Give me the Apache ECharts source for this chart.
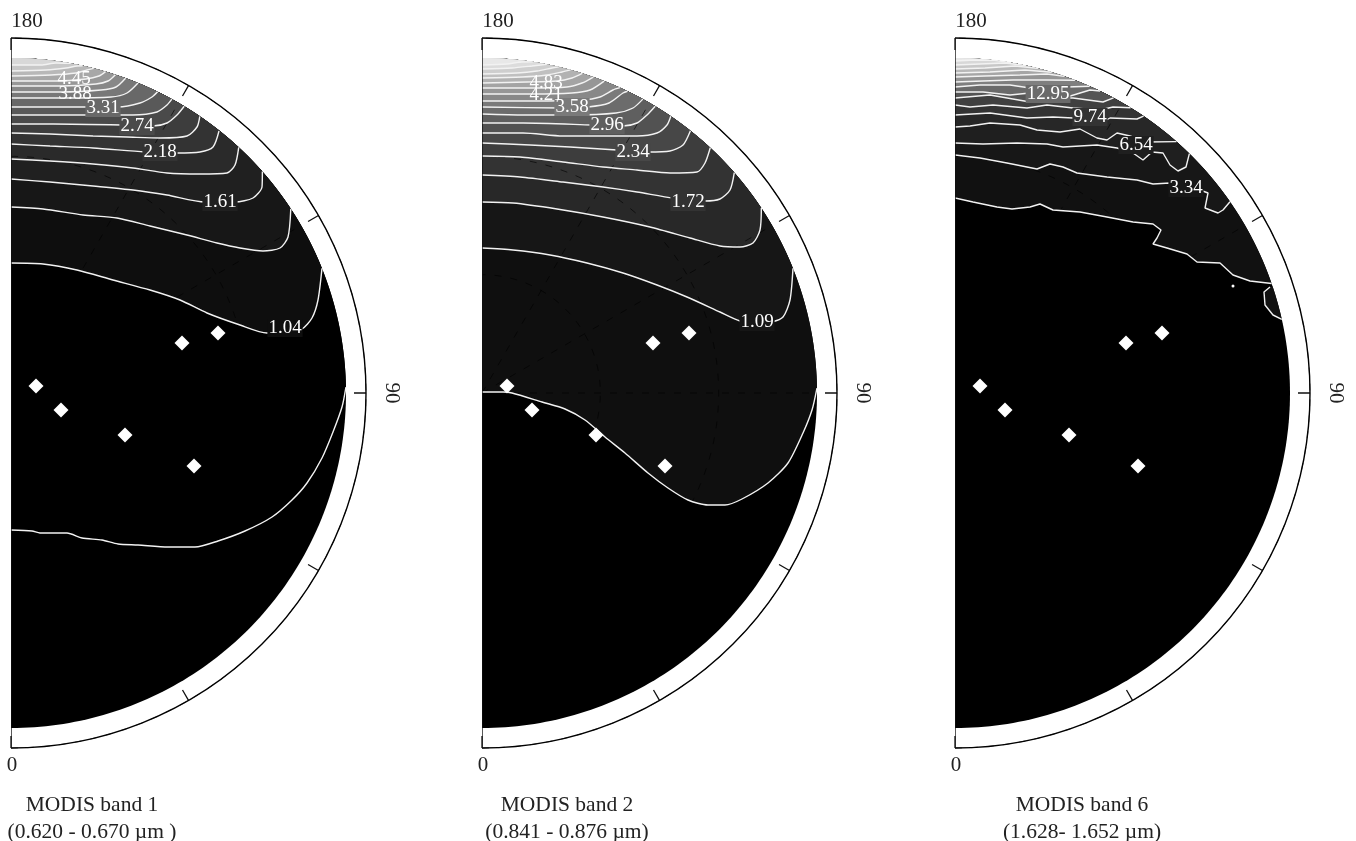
<!DOCTYPE html>
<html><head><meta charset="utf-8">
<style>html,body{margin:0;padding:0;background:#fff}#c{width:1356px;height:841px}</style>
<script src="https://cdn.jsdelivr.net/npm/echarts@6/dist/echarts.min.js"></script>
</head><body><div id="c"></div>
<script>
// Contours as [across, along] readings on the polar plot's own scale (0 to 355 from the pole).
var band1Lines = [
 [[0,-137],[21,-138],[29,-140],[56,-140],[71,-145],[91,-147],[107,-151],[127,-152],[157,-154],[184,-154],[207,-148],[234,-138],[261,-124],[281,-107],[296,-90],[311,-65],[322,-39],[331,-14],[336,6]],
 [[0,130],[32,129],[66,123],[102,113],[139,103],[169,93],[196,80],[229,68],[256,60],[274,60],[291,64],[301,75],[307,93],[312,125]],
 [[0,186],[32,184],[72,178],[106,175],[139,167],[176,158],[206,150],[229,145],[252,142],[269,145],[277,156],[281,185]],
 [[0,214],[39,211],[82,207],[122,203],[156,198],[194,191],[224,191],[242,195],[251,206],[252,222]],
 [[0,234],[39,232],[82,229],[122,225],[156,220],[189,219],[216,220],[224,228],[228,246]],
 [[0,249],[39,247],[82,245],[134,241],[166,240],[189,241],[202,246],[208,262]],
 [[0,260],[39,259],[82,257],[116,256],[149,255],[176,257],[186,266],[189,277]],
 [[0,269],[42,269],[111,268],[142,267],[156,270],[166,278],[174,288]],
 [[0,278],[72,278],[122,278],[146,281],[156,288],[162,296]],
 [[0,286],[60,286],[107,286],[129,290],[141,296],[147,302]],
 [[0,295],[55,295],[100,296],[116,300],[127,310]],
 [[0,301],[50,301],[90,303],[105,306],[115,316]],
 [[0,307],[50,307],[85,309],[97,312],[105,320]],
 [[0,312],[45,312],[75,314],[88,317],[95,323]],
 [[0,317],[40,318],[65,320],[76,323],[83,326]],
 [[0,322],[35,323],[55,325],[66,327],[72,329]],
 [[0,328],[30,328],[45,330],[60,331]]
];
var band2Lines = [
 [[0,1],[21,1],[30,0],[60,-9],[83,-16],[103,-27],[123,-44],[143,-60],[166,-80],[186,-95],[206,-107],[226,-112],[243,-112],[260,-106],[286,-90],[306,-70],[321,-40],[330,-17],[336,5]],
 [[0,145],[31,143],[68,138],[105,130],[141,120],[175,108],[205,96],[238,81],[258,72],[275,69],[290,71],[301,76],[308,93],[312,125]],
 [[0,191],[31,190],[75,184],[121,176],[168,166],[208,155],[238,147],[258,146],[271,150],[278,163],[281,186]],
 [[0,218],[38,216],[81,211],[121,206],[155,201],[191,195],[223,192],[238,194],[248,203],[253,221]],
 [[0,237],[38,236],[81,231],[121,226],[155,223],[188,220],[215,221],[223,230],[229,246]],
 [[0,250],[48,248],[88,246],[135,243],[166,241],[188,242],[201,248],[209,263]],
 [[0,260],[41,260],[81,257],[121,257],[155,257],[175,260],[185,268],[189,277]],
 [[0,270],[41,270],[110,268],[141,267],[155,270],[165,278],[174,288]],
 [[0,279],[42,278],[90,278],[134,280],[151,285],[162,296]],
 [[0,286],[80,285],[106,286],[127,290],[141,300],[147,305]],
 [[0,292],[50,292],[100,293],[118,296],[131,303],[140,310]],
 [[0,299],[50,299],[90,300],[108,303],[123,314]],
 [[0,305],[50,305],[85,306],[100,310],[112,318]],
 [[0,310],[45,311],[75,312],[90,315],[101,322]],
 [[0,315],[40,316],[65,318],[80,321],[89,325]],
 [[0,319],[35,320],[55,322],[70,325],[77,327]],
 [[0,324],[30,325],[50,327],[65,330]],
 [[0,328],[25,329],[40,331],[51,332]]
];
var band6Lines = [
 [[0,195],[18,191],[42,186],[57,184],[75,186],[85,189],[98,183],[125,181],[152,176],[178,171],[198,169],[206,163],[202,155],[198,149],[212,145],[232,139],[242,131],[265,130],[278,118],[295,112],[318,110]],
 [[0,238],[25,235],[52,230],[82,224],[95,229],[108,226],[122,220],[152,216],[182,213],[198,209],[215,210],[245,203],[253,200],[250,185],[263,180],[268,183],[276,192]],
 [[0,250],[28,249],[62,250],[92,249],[108,246],[142,248],[162,245],[178,240],[188,233],[197,241],[208,240],[215,228],[223,222],[231,226],[235,240]],
 [[0,266],[15,267],[35,270],[65,268],[82,263],[105,261],[125,264],[142,255],[152,253],[162,260],[175,257],[192,251],[222,252]],
 [[0,278],[35,280],[72,275],[98,276],[118,275],[142,268],[155,275],[182,274],[190,279]],
 [[0,288],[15,286],[38,288],[72,285],[92,288],[118,285],[145,283],[158,286],[176,286]],
 [[0,295],[35,298],[75,291],[95,295],[118,295],[148,291],[159,296]],
 [[0,301],[28,301],[55,298],[75,300],[112,296],[135,303],[147,306]],
 [[0,306],[25,308],[55,308],[75,305],[112,306],[136,310]],
 [[0,311],[28,312],[58,313],[92,313],[120,313]],
 [[0,316],[30,317],[65,318],[92,319],[110,318]],
 [[0,320],[35,321],[70,323],[97,322]],
 [[0,324],[30,325],[60,327],[83,325]],
 [[0,328],[25,329],[50,330],[71,328]],
 [[0,332],[20,333],[40,333],[56,331]]
];
var band6Pocket = [[315,106],[309,101],[310,88],[318,78],[328,74]];
var band6Speck = [[278,107]];
var sunAngles = [[25,7],[50,-17],[114,-42],[183,-73],[171,50],[207,60]];
var band1Labels = [['1.04',274,65,1],['1.61',209,191,3],['2.18',149,241,5],['2.74',126,267,7],['3.31',92,285,9],['3.88',64,299,11],['4.45',63,314,13]];
var band2Labels = [['1.09',275,71,1],['1.72',206,191,3],['2.34',151,241,5],['2.96',125,268,7],['3.58',90,286,9],['4.21',64,298,11],['4.83',64,310,13]];
var band6Labels = [['3.34',231,205,1],['6.54',181,248,2],['9.74',135,276,4],['12.95',93,299,7]];
var panelNames = ['MODIS band 1','MODIS band 2','MODIS band 6'];
var panelRanges = ['(0.620 - 0.670 \u00b5m )','(0.841 - 0.876 \u00b5m)','(1.628- 1.652 \u00b5m)'];
var angleTicks = [0,90,180];
var spokeAngles = [30,60,90,120,150];

// styling and layout
var grays1 = ['#000','#0e0e0e','#171717','#202020','#2a2a2a','#333','#3d3d3d','#4a4a4a','#595959','#686868','#787878','#888','#989898','#a8a8a8','#b8b8b8','#c8c8c8','#d8d8d8'];
var grays2 = ['#0f0f0f','#161616','#282828','#333','#3d3d3d','#474747','#525252','#5f5f5f','#6c6c6c','#7a7a7a','#888','#969696','#a4a4a4','#b2b2b2','#c0c0c0','#cecece','#dcdcdc','#e8e8e8'];
var grays6 = ['#111','#171717','#1f1f1f','#272727','#333','#404040','#555','#6a6a6a','#7f7f7f','#949494','#a6a6a6','#b8b8b8','#c8c8c8','#d8d8d8','#e8e8e8'];
var FONT = '"Liberation Serif","Times New Roman",serif';
var OUTER = 355, DISC = 335;
var panels = [
 {cx:11, lines:band1Lines, labels:band1Labels, grays:grays1, titleX:92},
 {cx:482,lines:band2Lines, labels:band2Labels, grays:grays2, titleX:567},
 {cx:955,lines:band6Lines, labels:band6Labels, grays:grays6, titleX:1082}
];
function toPolar(p){
  return [Math.min(Math.sqrt(p[0]*p[0]+p[1]*p[1]),DISC), Math.atan2(p[0],-p[1])*180/Math.PI];
}
function arc(from,to){
  var a=[],t=from,step=to>from?1:-1;
  while((to-t)*step>0){a.push([DISC,t]);t+=step;}
  a.push([DISC,to]);
  return a;
}
function closed(line,endAngle){
  var pts=line.map(toPolar);
  return pts.concat(arc(pts[pts.length-1][1],endAngle));
}
var opt={animation:false,backgroundColor:'#fff',polar:[],angleAxis:[],radiusAxis:[],series:[],title:[]};
panels.forEach(function(pn,i){
  opt.polar.push({center:[pn.cx,393],radius:[0,OUTER]});
  opt.angleAxis.push({polarIndex:i,type:'value',min:0,max:180,interval:30,startAngle:-90,endAngle:90,clockwise:false,z:3,
    axisLine:{show:true,lineStyle:{color:'#000',width:1.4}},
    axisTick:{show:true,inside:true,length:12,lineStyle:{color:'#111',width:1.3}},
    axisLabel:{show:false},splitLine:{show:false}});
  opt.radiusAxis.push({polarIndex:i,type:'value',min:0,max:OUTER,interval:OUTER/3,z:3,
    axisLine:{show:false},axisTick:{show:false},axisLabel:{show:false},
    splitLine:{show:true,lineStyle:{color:'#000',width:1,opacity:0.6,type:[7,9]}}});
  // disc and filled bands
  var shapes=[arc(0,180)];
  pn.lines.forEach(function(l){shapes.push(closed(l,180));});
  var fills=['#000'].concat(pn.grays);
  if(i===2){shapes.push(closed(band6Pocket,toPolar(band6Pocket[0])[1]));fills.push(pn.grays[0]);}
  opt.series.push({type:'custom',coordinateSystem:'polar',polarIndex:i,z:2,silent:true,
    data:shapes.map(function(s){return s[0];}),
    renderItem:function(params,api){
      return {type:'polygon',shape:{points:shapes[params.dataIndex].map(function(p){return api.coord(p);})},
              style:{fill:fills[params.dataIndex]}};
    }});
  // faint spokes over the bands
  spokeAngles.forEach(function(a){
    opt.series.push({type:'line',coordinateSystem:'polar',polarIndex:i,z:3,silent:true,showSymbol:false,
      data:[[0,a],[DISC,a]],lineStyle:{color:'#000',width:1,opacity:0.6,type:[7,9]}});
  });
  // contour lines
  var drawn=pn.lines.slice();
  if(i===2) drawn.push(band6Pocket);
  drawn.forEach(function(l){
    opt.series.push({type:'line',coordinateSystem:'polar',polarIndex:i,z:4,silent:true,showSymbol:false,
      smooth:i===2?0:0.25,data:l.map(toPolar),lineStyle:{color:'#f2f2f2',width:1.4}});
  });
  // contour value labels
  opt.series.push({type:'scatter',coordinateSystem:'polar',polarIndex:i,z:5,silent:true,symbolSize:0,itemStyle:{opacity:1},
    data:pn.labels.map(function(b){
      return {value:toPolar([b[1],b[2]]),label:{show:true,position:'inside',formatter:b[0],color:'#fff',opacity:1,
        fontFamily:FONT,fontSize:19,backgroundColor:b[3]<10?pn.grays[b[3]]:'transparent',padding:[0,1,-1,1]}};
    })});
  // observation geometry markers
  opt.series.push({type:'scatter',coordinateSystem:'polar',polarIndex:i,z:6,silent:true,symbol:'diamond',symbolSize:15,
    data:sunAngles.map(toPolar),itemStyle:{color:'#fff',opacity:1}});
  if(i===2) opt.series.push({type:'scatter',coordinateSystem:'polar',polarIndex:i,z:6,silent:true,symbolSize:3,
    data:band6Speck.map(toPolar),itemStyle:{color:'#fff',opacity:1}});
  // diameter line
  opt.series.push({type:'line',coordinateSystem:'polar',polarIndex:i,z:6,silent:true,showSymbol:false,
    data:[[OUTER,180],[0,0],[OUTER,0]],lineStyle:{color:'#111',width:1.4}});
  // angle labels
  var off={0:[1,17],90:[0,-26],180:[16,-17]};
  opt.series.push({type:'scatter',coordinateSystem:'polar',polarIndex:i,z:6,silent:true,symbolSize:0,itemStyle:{opacity:1},
    data:angleTicks.map(function(a){
      return {value:[OUTER,a],label:{show:true,position:'inside',formatter:String(a),color:'#222',opacity:1,fontFamily:FONT,
        fontSize:21,offset:off[a],rotate:a===90?-90:0}};
    })});
  opt.title.push({text:panelNames[i]+'\n'+panelRanges[i],left:pn.titleX,top:792,padding:0,textAlign:'center',
    textStyle:{fontFamily:FONT,fontSize:21.5,fontWeight:'normal',color:'#222',lineHeight:27}});
});
var chart=echarts.init(document.getElementById('c'),null,{renderer:'canvas'});
chart.setOption(opt);
</script></body></html>
